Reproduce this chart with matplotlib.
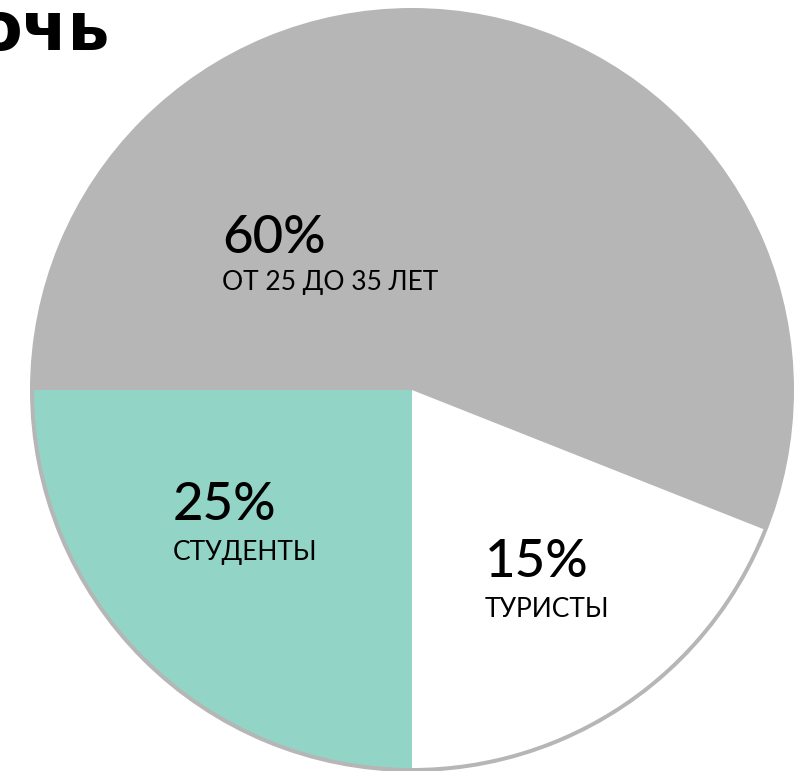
import numpy as np
import matplotlib
matplotlib.use("Agg")
import matplotlib.pyplot as plt

# shares as drawn in the picture (labels say 60/15/25)
shares = [56, 19, 25]
pct_labels = ["60%", "15%", "25%"]
names = ["ОТ 25 ДО 35 ЛЕТ", "ТУРИСТЫ", "СТУДЕНТЫ"]
colors = ["#b6b6b6", "#ffffff", "#92d4c6"]
title = "очь"

W, H = 809, 771
fig = plt.figure(figsize=(W / 100, H / 100), dpi=100)
ax = fig.add_axes([0, 0, 1, 1])

cx, cy, R = 412, H - 390, 382

# grey disc behind, gives the thin rim around the lower slices
ax.pie([1], colors=[colors[0]], center=(cx, cy), radius=R,
       wedgeprops=dict(linewidth=0))
ax.pie(shares, colors=colors, center=(cx, cy), radius=R - 4,
       startangle=180, counterclock=False, wedgeprops=dict(linewidth=0))

ax.set_xlim(0, W)
ax.set_ylim(0, H)
ax.set_aspect("equal")
ax.axis("off")

fam = ["Lato", "DejaVu Sans"]
# (x, baseline y) in pixels for each label block
pos = [(222, 253, 290), (485, 577, 617), (173, 520, 560)]
for (x, yb, ys), p, n in zip(pos, pct_labels, names):
    ax.text(x, H - yb, p, fontsize=38, family=fam, fontweight="medium",
            color="black", ha="left", va="baseline")
    ax.text(x, H - ys, n, fontsize=19, family=fam, color="black",
            ha="left", va="baseline")

ax.text(110, H - 50, title, fontsize=48, fontweight="bold",
        family=["DejaVu Sans"], color="black", ha="right", va="baseline")

fig.savefig("out.png", dpi=100)
